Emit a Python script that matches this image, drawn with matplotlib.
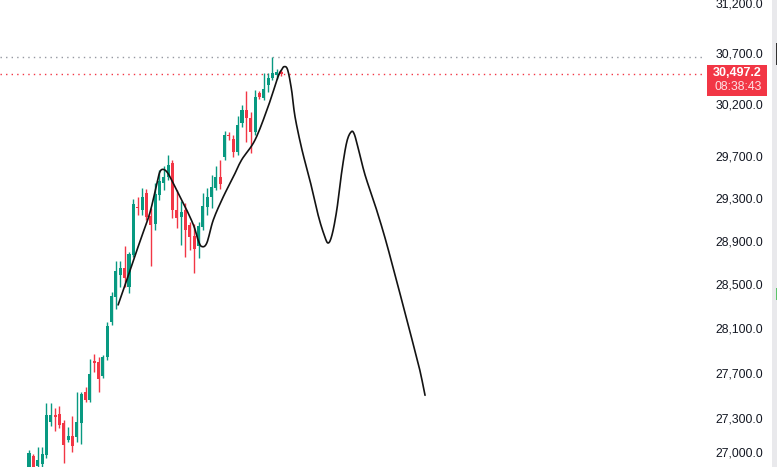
import numpy as np
import matplotlib
matplotlib.use("Agg")
import matplotlib.pyplot as plt
from matplotlib.patches import Rectangle
from matplotlib.transforms import IdentityTransform
from matplotlib.ticker import NullLocator

# daily candles
opens = [26842, 26965, 26877, 26895, 26974, 27262, 27324, 27333, 27254, 27105,
         27140, 27131, 27254, 27527, 27457, 27803, 27794, 27669, 27839, 28155,
         28383, 28584, 28649, 28474, 28770, 29217, 29189, 29349, 29133, 29058,
         29330, 29444, 29501, 29634, 29189, 29124, 29189, 29049, 28946, 28853,
         29030, 29217, 29311, 29397, 29501, 29692, 29903, 29865, 29739, 30018,
         30143, 30066, 29932, 30310, 30261, 30389, 30458, 30487, 30511]
closes = [26991, 26842, 26930, 26982, 27324, 27324, 27306, 27236, 27061, 27140,
          27052, 27262, 27510, 27457, 27687, 27785, 27642, 27839, 28118, 28392,
          28621, 28649, 28556, 28779, 29245, 29207, 29311, 29124, 29049, 29340,
          29463, 29501, 29615, 29189, 29114, 29170, 29002, 28937, 28825, 29040,
          29226, 29311, 29406, 29501, 29434, 29903, 29894, 29739, 29999, 30143,
          30066, 29932, 30271, 30271, 30349, 30458, 30507, 30516, 30497.2]
highs = [27017, 26982, 27044, 27044, 27430, 27430, 27386, 27404, 27280, 27219,
         27315, 27527, 27527, 27572, 27821, 27866, 27839, 27857, 28155, 28428,
         28714, 28714, 28853, 28797, 29292, 29311, 29397, 29387, 29207, 29444,
         29568, 29606, 29711, 29663, 29378, 29273, 29255, 29077, 29058, 29077,
         29349, 29397, 29520, 29606, 29663, 29942, 29932, 29903, 30086, 30192,
         30330, 30124, 30340, 30330, 30507, 30507, 30663, 30546, 30536]
lows = [26825, 26825, 26842, 26869, 26947, 27227, 27182, 27210, 26904, 27088,
        27000, 27088, 27070, 27439, 27439, 27704, 27527, 27651, 27812, 28127,
        28273, 28474, 28474, 28419, 28751, 29142, 29142, 29095, 28668, 29002,
        29283, 29378, 29472, 29114, 29021, 28862, 28751, 28816, 28603, 28742,
        29002, 29142, 29207, 29378, 29387, 29663, 29855, 29692, 29711, 29980,
        29836, 29730, 29903, 30251, 30241, 30320, 30438, 30448, 30477]

# hand drawn projection (bar index, price)
path_bar = [20.5, 22.1, 23.9, 25.8, 27.8, 29.4, 30.1, 30.9, 31.9, 33.2,
            35.1, 36.6, 38.0, 38.9, 39.7, 40.9, 42.4, 44.7, 46.9, 48.9,
            52.0, 55.0, 57.3, 58.1, 58.7, 59.5, 60.4, 61.2, 62.8, 64.6,
            66.5, 67.9, 68.8, 69.7, 70.8, 72.0, 73.1, 74.1, 74.8, 75.7,
            77.3, 79.6, 81.9, 84.2, 86.5, 88.3, 89.9, 91.1]
path_price = [28310, 28492, 28705, 28927, 29161, 29435, 29549, 29573, 29539, 29440,
              29283, 29161, 29030, 28908, 28848, 28880, 29096, 29314, 29492, 29663,
              29855, 30176, 30470, 30536, 30568, 30536, 30339, 30077, 29759, 29473,
              29142, 28955, 28880, 28955, 29189, 29568, 29836, 29932, 29913, 29779,
              29520, 29236, 28927, 28584, 28238, 27966, 27722, 27498]

price_ticks = [27000, 27300, 27700, 28100, 28500, 28900, 29300, 29700, 30200, 30700, 31200]
last_price = 30497.2
countdown = "08:38:43"

up = "#089981"
down = "#f23645"


def smooth_stroke(xs, ys, n=8):
    # catmull-rom through the read points, just so the pen stroke has no corners
    px = np.array(xs, float)
    py = np.log(np.array(ys, float))
    px = np.r_[px[0], px, px[-1]]
    py = np.r_[py[0], py, py[-1]]
    ox, oy = [], []
    t = np.linspace(0, 1, n, endpoint=False)
    for i in range(1, len(px) - 2):
        for arr, out in ((px, ox), (py, oy)):
            p0, p1, p2, p3 = arr[i - 1], arr[i], arr[i + 1], arr[i + 2]
            out.extend(0.5 * (2 * p1 + (-p0 + p2) * t + (2 * p0 - 5 * p1 + 4 * p2 - p3) * t ** 2
                              + (-p0 + 3 * p1 - 3 * p2 + p3) * t ** 3))
    ox.append(xs[-1])
    oy.append(np.log(ys[-1]))
    return np.array(ox), np.exp(oy)


fig = plt.figure(figsize=(7.77, 4.67), dpi=100)
ax = fig.add_axes([0, 0, 705 / 777, 1])
ax.set_yscale("log")

x = np.arange(len(opens))
o = np.array(opens, float)
c = np.array(closes, float)
h = np.array(highs, float)
l = np.array(lows, float)
cols = [up if cc >= oo else down for oo, cc in zip(o, c)]

ax.vlines(x, l, h, colors=cols, linewidth=1, zorder=2)
bot = np.minimum(o, c)
top = np.maximum(o, c)
top = np.maximum(top, bot * 1.0004)
ax.bar(x, top - bot, bottom=bot, width=0.7, color=cols, linewidth=0, zorder=3)

sx, sy = smooth_stroke(path_bar, path_price)
ax.plot(sx, sy, color="#131313", linewidth=1.2, zorder=4,
        solid_capstyle="round", solid_joinstyle="round")

# high and last price lines
ax.axhline(max(highs), color="#9598a1", linewidth=1, linestyle=(0, (1, 3)), zorder=1)
ax.axhline(last_price, color=down, linewidth=1, linestyle=(0, (1, 3)), zorder=1)

ax.set_xlim(-6.67, 155.5)
ax.set_ylim(26870, 31231)
ax.set_yticks(price_ticks)
ax.yaxis.set_minor_locator(NullLocator())
ax.set_yticklabels(["{:,.1f}".format(t) for t in price_ticks])
ax.yaxis.tick_right()
ax.tick_params(axis="y", length=0, pad=7.5, labelsize=8.8, labelcolor="#131722")
for lab in ax.get_yticklabels():
    lab.set_family("Liberation Sans")
ax.set_xticks([])
for s in ax.spines.values():
    s.set_visible(False)

# price label box on the scale
fig.canvas.draw()
y0 = ax.transData.transform((0, last_price))[1]
fig.add_artist(Rectangle((707, y0 - 22), 60, 31, transform=IdentityTransform(),
                         facecolor=down, edgecolor="none", zorder=5))
fig.text(762 / 777, (y0 + 1) / 467, "{:,.1f}".format(last_price), ha="right", va="center",
         color="white", fontsize=9, fontweight="bold", family="Liberation Sans", zorder=6)
fig.text(762 / 777, (y0 - 13) / 467, countdown, ha="right", va="center",
         color="white", alpha=0.85, fontsize=8.8, family="Liberation Sans", zorder=6)

# edge of the next panel
fig.add_artist(Rectangle((772, 0), 5, 467, transform=IdentityTransform(),
                         facecolor="#e9e9ec", edgecolor="none"))
fig.add_artist(Rectangle((775.5, 402), 1.5, 22, transform=IdentityTransform(),
                         facecolor="#333333", edgecolor="none"))
fig.add_artist(Rectangle((775.5, 167), 1.5, 12, transform=IdentityTransform(),
                         facecolor="#5cc46a", edgecolor="none"))

fig.savefig("out.png", dpi=100)
